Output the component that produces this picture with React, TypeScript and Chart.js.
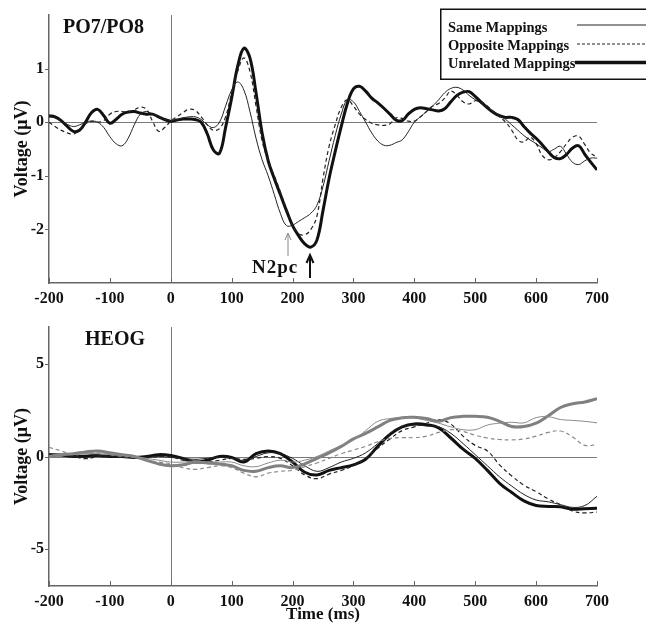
import React, { useEffect, useRef } from 'react';
import { Chart, registerables } from 'chart.js';
Chart.register(...registerables);

// ---------- DATA ----------
// PO7/PO8 panel (10 ms steps)
const TOP_TIMES = [
  -200, -190, -180, -170, -160, -150, -140, -130, -120, -110,
  -100, -90, -80, -70, -60, -50, -40, -30, -20, -10,
  0, 10, 20, 30, 40, 50, 60, 70, 80, 90,
  100, 110, 120, 130, 140, 150, 160, 170, 180, 190,
  200, 210, 220, 230, 240, 250, 260, 270, 280, 290,
  300, 310, 320, 330, 340, 350, 360, 370, 380, 390,
  400, 410, 420, 430, 440, 450, 460, 470, 480, 490,
  500, 510, 520, 530, 540, 550, 560, 570, 580, 590,
  600, 610, 620, 630, 640, 650, 660, 670, 680, 690,
  700,
];
const TOP_SAME = [
  0.10, 0.08, 0.02, -0.04, -0.08, -0.05, 0.00, 0.02, 0.00, -0.10,
  -0.27, -0.40, -0.44, -0.30, -0.05, 0.15, 0.20, 0.15, 0.10, 0.05,
  0.03, 0.05, 0.08, 0.10, 0.10, 0.05, -0.05, -0.10, 0.00, 0.30,
  0.60, 0.75, 0.60, 0.20, -0.30, -0.70, -1.00, -1.35, -1.70, -1.93,
  -1.92, -1.85, -1.78, -1.70, -1.55, -1.20, -0.72, -0.25, 0.15, 0.42,
  0.38, 0.20, 0.00, -0.20, -0.35, -0.43, -0.43, -0.38, -0.33, -0.18,
  0.00, 0.10, 0.20, 0.30, 0.42, 0.55, 0.63, 0.65, 0.60, 0.50,
  0.42, 0.35, 0.28, 0.20, 0.12, 0.05, -0.05, -0.15, -0.25, -0.33,
  -0.40, -0.48, -0.55, -0.50, -0.45, -0.60, -0.75, -0.79, -0.72, -0.67,
  -0.67,
];
const TOP_OPPOSITE = [
  0.00, -0.08, -0.15, -0.20, -0.22, -0.15, -0.03, 0.02, 0.00, 0.03,
  0.15, 0.20, 0.20, 0.19, 0.23, 0.28, 0.24, 0.02, -0.17, -0.10,
  0.02, 0.10, 0.18, 0.24, 0.22, 0.10, -0.05, -0.15, -0.12, 0.10,
  0.55, 0.95, 1.20, 0.95, 0.30, -0.35, -0.72, -1.00, -1.30, -1.62,
  -1.92, -2.08, -2.10, -2.00, -1.75, -1.05, -0.45, -0.05, 0.28, 0.42,
  0.30, 0.15, 0.05, -0.02, -0.05, -0.06, -0.03, 0.08, 0.07, 0.02,
  0.02, 0.10, 0.20, 0.30, 0.35, 0.45, 0.58, 0.50, 0.38, 0.34,
  0.40, 0.38, 0.30, 0.20, 0.10, 0.00, -0.15, -0.33, -0.37, -0.28,
  -0.40, -0.62, -0.70, -0.66, -0.55, -0.40, -0.28, -0.26, -0.42, -0.58,
  -0.65,
];
const TOP_UNRELATED = [
  0.12, 0.10, 0.03, -0.08, -0.17, -0.15, 0.00, 0.18, 0.24, 0.12,
  -0.02, 0.05, 0.15, 0.19, 0.20, 0.17, 0.15, 0.15, 0.10, 0.05,
  0.02, 0.04, 0.06, 0.06, 0.05, 0.00, -0.22, -0.52, -0.58, -0.10,
  0.45, 1.05, 1.38, 1.20, 0.55, -0.20, -0.72, -1.05, -1.35, -1.65,
  -1.93, -2.12, -2.27, -2.33, -2.20, -1.65, -1.05, -0.55, -0.08, 0.35,
  0.62, 0.67, 0.58, 0.45, 0.36, 0.26, 0.15, 0.04, 0.03, 0.15,
  0.24, 0.27, 0.25, 0.23, 0.21, 0.25, 0.38, 0.50, 0.56, 0.57,
  0.48, 0.37, 0.27, 0.18, 0.12, 0.09, 0.09, 0.05, -0.08, -0.20,
  -0.30, -0.42, -0.55, -0.66, -0.68, -0.60, -0.48, -0.44, -0.60, -0.75,
  -0.89,
];

// HEOG panel (20 ms steps)
const BOT_TIMES = [
  -200, -180, -160, -140, -120, -100, -80, -60, -40, -20,
  0, 20, 40, 60, 80, 100, 120, 140, 160, 180,
  200, 220, 240, 260, 280, 300, 320, 340, 360, 380,
  400, 420, 440, 460, 480, 500, 520, 540, 560, 580,
  600, 620, 640, 660, 680, 700,
];
const HEOG_BLACK_SAME = [
  0.05, 0.05, 0.00, -0.05, 0.05, 0.00, -0.05, -0.05, -0.05, 0.00,
  -0.05, -0.10, -0.15, -0.10, -0.05, -0.10, -0.20, 0.00, 0.20, 0.15,
  -0.10, -0.50, -0.80, -0.60, -0.30, -0.10, 0.20, 0.70, 1.25, 1.60,
  1.70, 1.65, 1.60, 1.25, 0.70, 0.10, -0.50, -1.10, -1.60, -2.05,
  -2.35, -2.45, -2.60, -2.75, -2.65, -2.15,
];
const HEOG_BLACK_OPPOSITE = [
  0.15, 0.05, 0.00, -0.12, 0.00, 0.05, 0.00, -0.05, -0.05, 0.00,
  0.00, -0.20, -0.20, -0.30, -0.20, -0.10, -0.15, -0.10, 0.00, -0.10,
  -0.50, -1.00, -1.20, -0.95, -0.75, -0.50, -0.10, 0.45, 0.95, 1.40,
  1.60, 1.80, 2.00, 1.75, 1.10, 0.60, 0.30, -0.45, -1.05, -1.55,
  -1.90, -2.30, -2.60, -2.95, -3.05, -3.00,
];
const HEOG_BLACK_UNRELATED = [
  0.10, 0.08, 0.00, 0.02, 0.05, 0.00, 0.00, -0.05, 0.00, 0.10,
  0.05, -0.10, -0.30, -0.20, 0.00, -0.05, -0.30, 0.15, 0.30, 0.15,
  -0.30, -0.85, -1.00, -0.75, -0.60, -0.45, -0.15, 0.55, 1.20, 1.60,
  1.76, 1.72, 1.55, 1.00, 0.40, -0.10, -0.75, -1.45, -1.95, -2.40,
  -2.65, -2.70, -2.72, -2.85, -2.82, -2.80,
];
const HEOG_GRAY_SAME = [
  0.05, 0.10, 0.10, 0.15, 0.15, 0.10, 0.05, 0.00, -0.10, -0.20,
  -0.30, -0.30, -0.25, -0.30, -0.30, -0.30, -0.50, -0.55, -0.35, -0.20,
  -0.30, -0.20, 0.00, 0.30, 0.60, 0.90, 1.40, 1.90, 2.05, 2.10,
  2.08, 1.95, 1.80, 1.60, 1.45, 1.45, 1.70, 1.80, 1.85, 1.82,
  2.10, 2.15, 2.00, 1.95, 1.90, 1.82,
];
const HEOG_GRAY_OPPOSITE = [
  0.50, 0.30, 0.10, 0.15, 0.20, 0.10, 0.00, -0.05, -0.20, -0.30,
  -0.40, -0.60, -0.70, -0.60, -0.50, -0.60, -0.90, -1.10, -0.90, -0.80,
  -0.75, -0.55, -0.35, -0.10, 0.15, 0.35, 0.55, 0.80, 0.98, 1.02,
  1.02, 1.10, 1.30, 1.45, 1.35, 1.15, 1.00, 0.92, 0.90, 0.95,
  1.10, 1.30, 1.38, 1.05, 0.60, 0.65,
];
const HEOG_GRAY_UNRELATED = [
  0.00, 0.10, 0.15, 0.25, 0.30, 0.20, 0.10, 0.00, -0.20, -0.40,
  -0.50, -0.45, -0.30, -0.35, -0.40, -0.50, -0.75, -0.80, -0.60, -0.50,
  -0.60, -0.40, -0.10, 0.20, 0.55, 0.95, 1.25, 1.60, 1.95, 2.10,
  2.12, 2.05, 1.90, 2.10, 2.17, 2.17, 2.12, 1.90, 1.62, 1.62,
  1.80, 2.20, 2.65, 2.85, 2.95, 3.12,
];

const X_MIN = -200;
const X_MAX = 700;
const TOP_Y_TICKS = [-2, -1, 0, 1];
const BOT_Y_TICKS = [-5, 0, 5];
const LEGEND_LABELS = ['Same Mappings', 'Opposite Mappings', 'Unrelated Mappings'];

// ---------- HELPERS ----------
const FONT = 'Liberation Serif, Times New Roman, serif';
const toPoints = (times: number[], vals: number[]) => times.map((t, i) => ({ x: t, y: vals[i] }));

const axesPlugin = {
  id: 'axesPlugin',
  beforeDatasetsDraw(chart: any) {
    const { ctx, chartArea: a, scales } = chart;
    const x = scales.x, y = scales.y;
    ctx.save();
    ctx.strokeStyle = '#7a7a7a';
    ctx.lineWidth = 1;
    const x0 = Math.round(x.getPixelForValue(0)) + 0.5;
    const y0 = Math.round(y.getPixelForValue(0)) + 0.5;
    ctx.beginPath();
    ctx.moveTo(x0, a.top);
    ctx.lineTo(x0, a.bottom);
    ctx.moveTo(a.left, y0);
    ctx.lineTo(a.right, y0);
    ctx.stroke();
    ctx.strokeStyle = '#666';
    ctx.beginPath();
    x.ticks.forEach((t: any) => {
      const px = Math.round(x.getPixelForValue(t.value)) + 0.5;
      ctx.moveTo(px, a.bottom);
      ctx.lineTo(px, a.bottom - 5);
    });
    y.ticks.forEach((t: any) => {
      const py = Math.round(y.getPixelForValue(t.value)) + 0.5;
      ctx.moveTo(a.left, py);
      ctx.lineTo(a.left - 4, py);
    });
    ctx.stroke();
    ctx.restore();
  },
};

type PanelProps = {
  width: number;
  height: number;
  top: number;
  datasets: any[];
  yMin: number;
  yMax: number;
  yTicks: number[];
  padTop: number;
  xHeight: number;
  xTitle?: string;
};

function Panel({ width, height, top, datasets, yMin, yMax, yTicks, padTop, xHeight, xTitle }: PanelProps) {
  const ref = useRef<HTMLCanvasElement | null>(null);
  useEffect(() => {
    if (!ref.current) return;
    const chart = new Chart(ref.current, {
      type: 'line',
      data: { datasets },
      plugins: [axesPlugin],
      options: {
        animation: false,
        responsive: false,
        maintainAspectRatio: false,
        layout: { padding: { left: 0, right: 49, top: padTop, bottom: 0 } },
        plugins: { legend: { display: false }, tooltip: { enabled: false } },
        elements: { point: { radius: 0 } },
        scales: {
          x: {
            type: 'linear',
            min: X_MIN,
            max: X_MAX,
            grid: { display: false, drawTicks: false },
            border: { display: true, color: '#666', width: 1.5 },
            ticks: {
              stepSize: 100,
              padding: 6,
              color: '#111',
              font: { family: FONT, size: 16, weight: 'bold' },
              callback: (v: any) => String(v),
              maxRotation: 0,
              autoSkip: false,
            },
            title: {
              display: !!xTitle,
              text: xTitle || '',
              color: '#111',
              font: { family: FONT, size: 17, weight: 'bold' },
              padding: { top: 0, bottom: 0 },
            },
            afterFit: (s: any) => { s.height = xHeight; },
          },
          y: {
            type: 'linear',
            min: yMin,
            max: yMax,
            grid: { display: false, drawTicks: false },
            border: { display: true, color: '#666', width: 1.5 },
            afterBuildTicks: (s: any) => { s.ticks = yTicks.map((v) => ({ value: v })); },
            ticks: {
              padding: 5,
              color: '#111',
              font: { family: FONT, size: 16, weight: 'bold' },
              callback: (v: any) => String(v),
            },
            title: {
              display: true,
              text: 'Voltage (μV)',
              color: '#111',
              font: { family: FONT, size: 18, weight: 'bold' },
              padding: { top: 12, bottom: 0 },
            },
            afterFit: (s: any) => { s.width = 49; },
          },
        },
      } as any,
    });
    return () => chart.destroy();
  }, []);
  return (
    <canvas
      ref={ref}
      width={width}
      height={height}
      style={{ position: 'absolute', left: 0, top, width, height }}
    />
  );
}

const thin = (data: any, color: string) => ({ data, borderColor: color, borderWidth: 1, tension: 0.4, fill: false });
const dashed = (data: any, color: string) => ({ data, borderColor: color, borderWidth: 1.2, borderDash: [4, 3], tension: 0.4, fill: false });
const thick = (data: any, color: string) => ({ data, borderColor: color, borderWidth: 3, tension: 0.4, fill: false });

export default function App() {
  const topSets = [
    thin(toPoints(TOP_TIMES, TOP_SAME), '#222'),
    dashed(toPoints(TOP_TIMES, TOP_OPPOSITE), '#222'),
    thick(toPoints(TOP_TIMES, TOP_UNRELATED), '#111'),
  ];
  const GRAY = '#8a8a8a';
  const botSets = [
    thin(toPoints(BOT_TIMES, HEOG_GRAY_SAME), GRAY),
    dashed(toPoints(BOT_TIMES, HEOG_GRAY_OPPOSITE), GRAY),
    thick(toPoints(BOT_TIMES, HEOG_GRAY_UNRELATED), '#808080'),
    thin(toPoints(BOT_TIMES, HEOG_BLACK_SAME), '#222'),
    dashed(toPoints(BOT_TIMES, HEOG_BLACK_OPPOSITE), '#222'),
    thick(toPoints(BOT_TIMES, HEOG_BLACK_UNRELATED), '#111'),
  ];
  const bold = { fontFamily: FONT, fontWeight: 'bold' as const, fill: '#111' };
  return (
    <div style={{ position: 'absolute', left: 0, top: 0, width: 646, height: 625, background: '#fff', overflow: 'hidden' }}>
      <Panel width={646} height={310} top={0} datasets={topSets} yMin={-3} yMax={2} yTicks={TOP_Y_TICKS} padTop={15} xHeight={27} />
      <Panel width={646} height={315} top={310} datasets={botSets} yMin={-7} yMax={7} yTicks={BOT_Y_TICKS} padTop={17} xHeight={39} xTitle="Time (ms)" />
      <svg width={646} height={625} style={{ position: 'absolute', left: 0, top: 0, pointerEvents: 'none' }}>
        <text x={63} y={33} fontSize={20} {...bold}>PO7/PO8</text>
        <text x={85} y={345} fontSize={20} {...bold}>HEOG</text>
        <text x={252} y={273} fontSize={19} letterSpacing={1} {...bold}>N2pc</text>
        <g stroke="#888" strokeWidth={1} fill="none">
          <line x1={288} y1={256} x2={288} y2={234} />
          <polyline points="285,240 288,233 291,240" />
        </g>
        <g stroke="#111" strokeWidth={2} fill="none">
          <line x1={310} y1={278} x2={310} y2={257} />
          <polyline points="306.5,263 310,255 313.5,263" />
        </g>
        <rect x={440.75} y={9.25} width={240} height={70} fill="#fff" stroke="#111" strokeWidth={1.5} />
        <text x={448} y={32} fontSize={14.5} {...bold}>{LEGEND_LABELS[0]}</text>
        <text x={448} y={50} fontSize={14.5} {...bold}>{LEGEND_LABELS[1]}</text>
        <text x={448} y={67.5} fontSize={14.5} {...bold}>{LEGEND_LABELS[2]}</text>
        <line x1={577} y1={25} x2={646} y2={25} stroke="#222" strokeWidth={1} />
        <line x1={577} y1={44} x2={646} y2={44} stroke="#222" strokeWidth={1.2} strokeDasharray="3 2" />
        <line x1={575} y1={62.5} x2={646} y2={62.5} stroke="#111" strokeWidth={3.5} />
      </svg>
    </div>
  );
}
